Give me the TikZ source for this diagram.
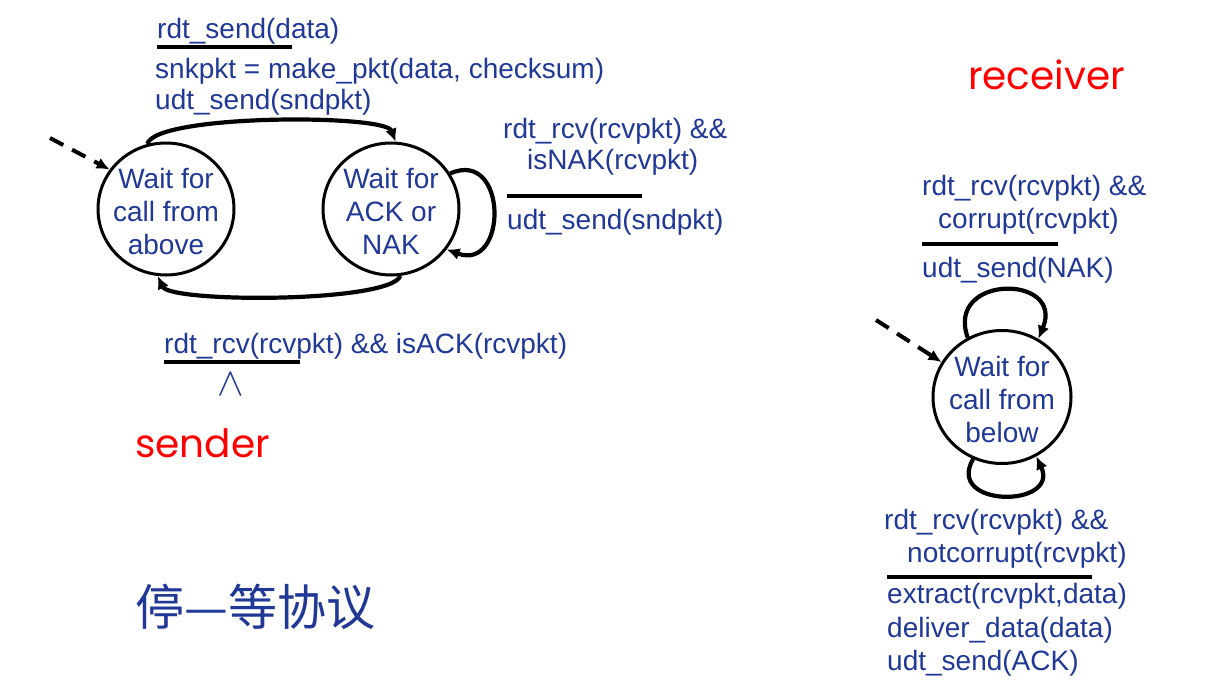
\documentclass[tikz,border=0pt]{standalone}
\usepackage{fontspec}
\setmainfont{Liberation Sans}
\newfontfamily\cjkfont{Noto Sans CJK SC}
\newfontfamily\redfont{Poppins}
\usetikzlibrary{shapes.geometric,arrows.meta}
\definecolor{myblue}{RGB}{32,56,150}
\begin{document}
\begin{tikzpicture}[x=1pt,y=-1pt,
  txt/.style={anchor=base west,inner sep=0pt,text=myblue,font=\fontsize{28}{33}\selectfont},
  statetext/.style={inner sep=0pt,yshift=-2pt,align=center,text=myblue,font=\fontsize{28}{33}\selectfont},
  state/.style={draw,ellipse,line width=3pt,inner sep=0pt,minimum width=136,minimum height=132},
  trans/.style={line width=4.2pt,-{Latex[length=13pt,width=12pt]}},
  initarr/.style={line width=4pt,dash pattern=on 15pt off 10pt,-{Latex[length=13pt,width=12pt]}},
  bar/.style={line width=4pt},
  redlbl/.style={anchor=west,inner sep=0pt,text=red,font=\redfont\fontsize{39}{42}\selectfont}]
\useasboundingbox (0,0) rectangle (1219,696);

% sender
\node[state,label={[statetext]center:Wait for\\call from\\above}] (s1) at (166,209) {};
\node[state,label={[statetext]center:Wait for\\ACK or\\NAK}] (s2) at (391,209) {};
\coordinate (d1) at (50,138);
\draw[initarr] (d1) -- (s1.145);
\draw[trans] (s1.106) .. controls (155,114) and (385,114) .. (s2.86);
\draw[trans] (s2.-82) .. controls (390,303) and (170,303) .. (s1.-97);
\draw[trans] (s2.31) .. controls (508,148) and (508,272) .. (s2.-36);

\node[txt] (t1) at (157,38) {rdt\_send(data)};
\coordinate (u1a) at (157,47); \coordinate (u1b) at (292,47);
\draw[bar] (u1a) -- (u1b);
\node[txt] (t2) at (155,78) {snkpkt = make\_pkt(data, checksum)};
\node[txt] (t3) at (155,109) {udt\_send(sndpkt)};

\node[txt] (t4) at (503,138) {rdt\_rcv(rcvpkt) \&\&};
\node[txt] (t5) at (527,169) {isNAK(rcvpkt)};
\coordinate (u2a) at (507,196); \coordinate (u2b) at (642,196);
\draw[bar] (u2a) -- (u2b);
\node[txt] (t6) at (507,229) {udt\_send(sndpkt)};

\node[txt] (t7) at (164,353) {rdt\_rcv(rcvpkt) \&\& isACK(rcvpkt)};
\coordinate (u3a) at (164,362); \coordinate (u3b) at (300,362);
\draw[bar] (u3a) -- (u3b);
\node[inner sep=0pt,text=myblue,font=\fontsize{28}{33}\selectfont] (wedge) at (231,384) {\scalebox{1.6}{$\wedge$}};

\node[redlbl] (sender) at (135,443) {sender};
\node[anchor=west,inner sep=0pt,text=myblue,font=\cjkfont\fontsize{49}{52}\selectfont] (cn) at (135,607) {停—等协议};

% receiver
\node[redlbl] (receiver) at (968,75) {receiver};
\node[txt] (r1) at (922,195) {rdt\_rcv(rcvpkt) \&\&};
\node[txt] (r2) at (938,228) {corrupt(rcvpkt)};
\coordinate (u4a) at (922,244); \coordinate (u4b) at (1058,244);
\draw[bar] (u4a) -- (u4b);
\node[txt] (r3) at (922,277) {udt\_send(NAK)};

\node[state,minimum width=138,minimum height=133,label={[statetext]center:Wait for\\call from\\below}] (s3) at (1002,397) {};
\coordinate (d2) at (876,320);
\draw[initarr] (d2) -- (s3.150);
\draw[trans] (s3.120) .. controls (945,274) and (1065,274) .. (s3.58);
\draw[trans] (s3.-115) .. controls (945,508) and (1060,508) .. (s3.-60);

\node[txt] (r4) at (884,529) {rdt\_rcv(rcvpkt) \&\&};
\node[txt] (r5) at (907,562) {notcorrupt(rcvpkt)};
\coordinate (u5a) at (887,577); \coordinate (u5b) at (1092,577);
\draw[bar] (u5a) -- (u5b);
\node[txt] (r6) at (887,603) {extract(rcvpkt,data)};
\node[txt] (r7) at (887,637) {deliver\_data(data)};
\node[txt] (r8) at (887,670) {udt\_send(ACK)};
\end{tikzpicture}
\end{document}
